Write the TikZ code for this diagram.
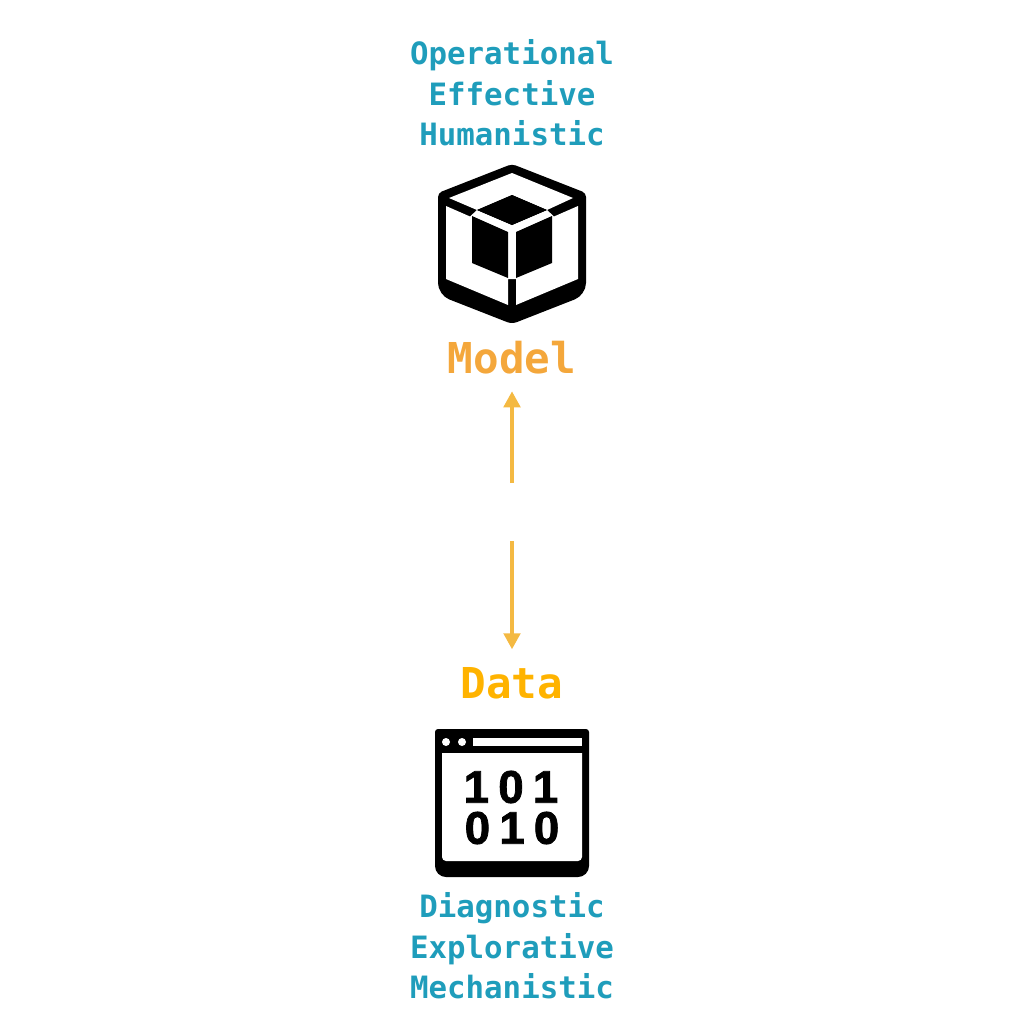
\documentclass[tikz,border=0pt]{standalone}
\usepackage{xcolor}
\usepackage{fontspec}
\setmonofont{DejaVu Sans Mono}
\newfontfamily\digitfont[FakeBold=1.6]{Liberation Sans}
\usetikzlibrary{arrows.meta}
\definecolor{goalteal}{HTML}{1F9DBB}
\definecolor{modelorange}{HTML}{F4A73B}
\definecolor{dataamber}{HTML}{FFB300}
\definecolor{arrowamber}{HTML}{F4B942}
\tikzset{
    goals/.style={text=goalteal,font=\ttfamily\bfseries\fontsize{8.75}{11.5}\selectfont,align=center,inner sep=0pt},
    title/.style={font=\ttfamily\bfseries\fontsize{12.1}{14}\selectfont,inner xsep=0pt,inner ysep=0.17cm},
    link/.style={draw=arrowamber,line width=0.036cm,-{Triangle[width=0.165cm,length=0.16cm]}},
    digits/.style={font=\digitfont\bfseries\fontsize{13}{13}\selectfont,inner sep=0pt}
}
\begin{document}
\begin{tikzpicture}[x=0.01cm,y=-0.01cm]
    \useasboundingbox (0,0) rectangle (1024,1024);
    % Testi in alto
    \node[goals] (goalsup) at (512,93) {Operational\\Effective\\Humanistic};
    % Cubo
    \fill[black,rounded corners=0.04cm] (512,164) -- (586,193) [rounded corners=0.12cm] -- (586,295) [rounded corners=0.05cm] -- (512,324) [rounded corners=0.12cm] -- (438,295) [rounded corners=0.04cm] -- (438,193) -- cycle;
    \fill[white] (512,173) -- (573,198) -- (547,210) -- (512,195) -- (477,210) -- (449,198) -- cycle;
    \fill[white] (446,206) -- (470,216.5) -- (477,210) -- (512,225) -- (512,279) -- (508,279) -- (508,305) -- (446,279) -- cycle;
    \fill[white] (578,206) -- (554,216.5) -- (547,210) -- (512,225) -- (512,279) -- (516,279) -- (516,305) -- (578,279) -- cycle;
    \fill[black] (512,195) -- (547,210) -- (512,225) -- (477,210) -- cycle;
    \fill[black] (472,216) -- (508,232) -- (508,278) -- (472,263) -- cycle;
    \fill[black] (552,216) -- (516,232) -- (516,278) -- (552,263) -- cycle;
    % Etichette
    \node[title,text=modelorange,anchor=base] (model) at (512,373) {Model};
    \node[title,text=dataamber,anchor=base] (data) at (512,698) {Data};
    % Frecce
    \coordinate (upstart) at (512,483);
    \coordinate (downstart) at (512,541);
    \draw[link] (upstart) -- (model.south);
    \draw[link] (downstart) -- (data.north);
    % Finestra
    \fill[black,rounded corners=0.03cm] (512,729) -- (589,729) [rounded corners=0.11cm] -- (589,877) -- (435,877) [rounded corners=0.03cm] -- (435,729) -- cycle;
    \fill[white] (473,738) rectangle (582,746);
    \fill[white] (446,742) circle[radius=4];
    \fill[white] (462,742) circle[radius=4];
    \fill[white] (512,753) -- (582,753) [rounded corners=0.04cm] -- (582,861) -- (442,861) [sharp corners] -- (442,753) -- cycle;
    \node[digits] (rowone) at (511,787) {1\kern2.6pt0\kern2.6pt1};
    \node[digits] (rowtwo) at (512,828) {0\kern2.6pt1\kern2.6pt0};
    % Testi in basso
    \node[goals] (goalsdown) at (512,946) {Diagnostic\\Explorative\\Mechanistic};
\end{tikzpicture}
\end{document}
